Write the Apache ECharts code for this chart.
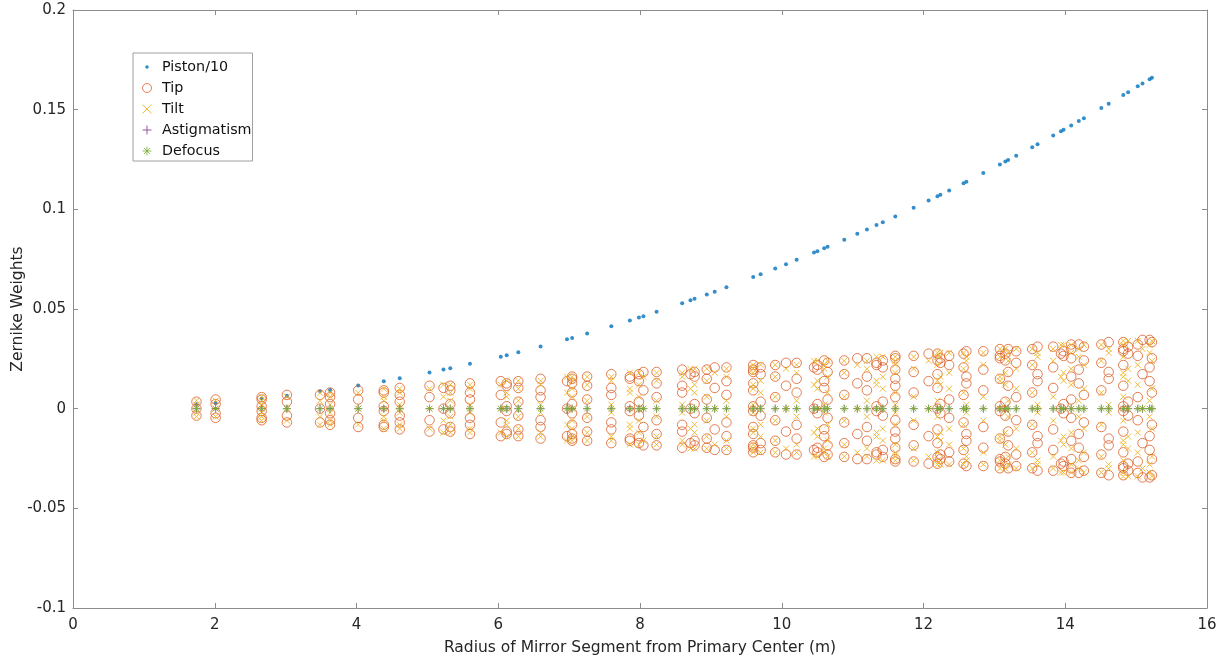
<!DOCTYPE html>
<html>
<head>
<meta charset="utf-8">
<title>Zernike Weights</title>
<script src="https://cdn.jsdelivr.net/npm/echarts@6/dist/echarts.min.js"></script>
<style>
html, body { margin: 0; padding: 0; background: #fff; }
#main { width: 1226px; height: 659px; }
</style>
</head>
<body>
<div id="main"></div>
<script>
// radius of each ring of segments (m)
var radii = [
  1.742, 2.012, 2.662, 3.018, 3.485, 3.627, 4.024, 4.385, 4.610, 5.030,
  5.227, 5.323, 5.601, 6.036, 6.119, 6.283, 6.597, 6.970, 7.042, 7.254,
  7.595, 7.857, 7.985, 8.048, 8.234, 8.595, 8.712, 8.770, 8.942, 9.054,
  9.220, 9.597, 9.702, 9.908, 10.060, 10.210, 10.455, 10.503, 10.599, 10.647,
  10.882, 11.066, 11.202, 11.337, 11.426, 11.602, 11.861, 12.072, 12.197, 12.238,
  12.362, 12.565, 12.605, 12.844, 13.078, 13.155, 13.194, 13.308, 13.534, 13.609,
  13.830, 13.940, 13.976, 14.084, 14.191, 14.263, 14.509, 14.613, 14.819, 14.887,
  15.023, 15.090, 15.190, 15.223
];

// piston / 10, one value per ring
var pistonTenth = [
  0.0022, 0.0029, 0.0051, 0.0065, 0.0087, 0.0094, 0.0116, 0.0138, 0.0152, 0.0181,
  0.0196, 0.0203, 0.0225, 0.0261, 0.0268, 0.0283, 0.0312, 0.0348, 0.0355, 0.0377,
  0.0413, 0.0442, 0.0457, 0.0464, 0.0486, 0.0529, 0.0544, 0.0551, 0.0573, 0.0587,
  0.0609, 0.0660, 0.0674, 0.0703, 0.0725, 0.0747, 0.0783, 0.0790, 0.0805, 0.0812,
  0.0848, 0.0877, 0.0899, 0.0921, 0.0935, 0.0964, 0.1008, 0.1044, 0.1066, 0.1073,
  0.1095, 0.1131, 0.1138, 0.1182, 0.1225, 0.1240, 0.1247, 0.1269, 0.1312, 0.1327,
  0.1370, 0.1392, 0.1399, 0.1421, 0.1443, 0.1457, 0.1508, 0.1530, 0.1573, 0.1588,
  0.1617, 0.1631, 0.1653, 0.1660
];

// tip of the segments in each ring
var tipWeights = [
  [.0035, 0, -.0035],
  [.0046, .0023, -.0023, -.0046],
  [.0058, .0046, .0012, -.0012, -.0046, -.0058],
  [.0069, .0035, -.0035, -.0069],
  [.0069, 0, -.0069],
  [.0081, .0058, .0023, -.0023, -.0058, -.0081],
  [.0092, .0046, -.0046, -.0092],
  [.0092, .0081, .0012, -.0012, -.0081, -.0092],
  [.0104, .0069, .0035, -.0035, -.0069, -.0104],
  [.0115, .0058, -.0058, -.0115],
  [.0104, 0, -.0104],
  [.0115, .0092, .0023, -.0023, -.0092, -.0115],
  [.0127, .0081, .0046, -.0046, -.0081, -.0127],
  [.0138, .0069, -.0069, -.0138],
  [.0127, .0115, .0012, -.0012, -.0115, -.0127],
  [.0138, .0104, .0035, -.0035, -.0104, -.0138],
  [.0150, .0092, .0058, -.0058, -.0092, -.0150],
  [.0138, 0, -.0138],
  [.0161, .0150, .0127, .0081, .0023, -.0023, -.0081, -.0127, -.0150, -.0161],
  [.0161, .0115, .0046, -.0046, -.0115, -.0161],
  [.0173, .0104, .0069, -.0069, -.0104, -.0173],
  [.0161, .0150, .0012, -.0012, -.0150, -.0161],
  [.0173, .0138, .0035, -.0035, -.0138, -.0173],
  [.0184, .0092, -.0092, -.0184],
  [.0184, .0127, .0058, -.0058, -.0127, -.0184],
  [.0196, .0115, .0081, -.0081, -.0115, -.0196],
  [.0173, 0, -.0173],
  [.0184, .0161, .0023, -.0023, -.0161, -.0184],
  [.0196, .0150, .0046, -.0046, -.0150, -.0196],
  [.0207, .0104, -.0104, -.0207],
  [.0207, .0138, .0069, -.0069, -.0138, -.0207],
  [.0219, .0196, .0184, .0127, .0092, .0012, -.0012, -.0092, -.0127, -.0184, -.0196, -.0219],
  [.0207, .0173, .0035, -.0035, -.0173, -.0207],
  [.0219, .0161, .0058, -.0058, -.0161, -.0219],
  [.0230, .0115, -.0115, -.0230],
  [.0230, .0150, .0081, -.0081, -.0150, -.0230],
  [.0207, 0, -.0207],
  [.0219, .0196, .0023, -.0023, -.0196, -.0219],
  [.0242, .0138, .0104, -.0104, -.0138, -.0242],
  [.0230, .0184, .0046, -.0046, -.0184, -.0230],
  [.0242, .0173, .0069, -.0069, -.0173, -.0242],
  [.0253, .0127, -.0127, -.0253],
  [.0253, .0161, .0092, -.0092, -.0161, -.0253],
  [.0230, .0219, .0012, -.0012, -.0219, -.0230],
  [.0242, .0207, .0035, -.0035, -.0207, -.0242],
  [.0265, .0253, .0196, .0150, .0115, .0058, -.0058, -.0115, -.0150, -.0196, -.0253, -.0265],
  [.0265, .0184, .0081, -.0081, -.0184, -.0265],
  [.0276, .0138, -.0138, -.0276],
  [.0276, .0242, .0173, .0104, 0, -.0104, -.0173, -.0242, -.0276],
  [.0253, .0230, .0023, -.0023, -.0230, -.0253],
  [.0265, .0219, .0046, -.0046, -.0219, -.0265],
  [.0276, .0207, .0069, -.0069, -.0207, -.0276],
  [.0288, .0161, .0127, -.0127, -.0161, -.0288],
  [.0288, .0196, .0092, -.0092, -.0196, -.0288],
  [.0299, .0265, .0253, .0150, .0012, -.0012, -.0150, -.0253, -.0265, -.0299],
  [.0276, .0242, .0035, -.0035, -.0242, -.0276],
  [.0299, .0184, .0115, -.0115, -.0184, -.0299],
  [.0288, .0230, .0058, -.0058, -.0230, -.0288],
  [.0299, .0219, .0081, -.0081, -.0219, -.0299],
  [.0311, .0173, .0138, -.0138, -.0173, -.0311],
  [.0311, .0207, .0104, -.0104, -.0207, -.0311],
  [.0276, 0, -.0276],
  [.0288, .0265, .0023, -.0023, -.0265, -.0288],
  [.0322, .0299, .0253, .0161, .0046, -.0046, -.0161, -.0253, -.0299, -.0322],
  [.0322, .0196, .0127, -.0127, -.0196, -.0322],
  [.0311, .0242, .0069, -.0069, -.0242, -.0311],
  [.0322, .0230, .0092, -.0092, -.0230, -.0322],
  [.0334, .0184, .0150, -.0150, -.0184, -.0334],
  [.0334, .0299, .0288, .0219, .0115, .0012, -.0012, -.0115, -.0219, -.0288, -.0299, -.0334],
  [.0311, .0276, .0035, -.0035, -.0276, -.0311],
  [.0322, .0265, .0058, -.0058, -.0265, -.0322],
  [.0345, .0173, -.0173, -.0345],
  [.0345, .0207, .0138, -.0138, -.0207, -.0345],
  [.0334, .0253, .0081, -.0081, -.0253, -.0334]
];

// tilt of the segments in each ring
var tiltWeights = [
  [.004, .002, -.002, -.004],
  [.004, 0, -.004],
  [.006, .004, .002, -.002, -.004, -.006],
  [.006, 0, -.006],
  [.008, .004, -.004, -.008],
  [.008, .006, .002, -.002, -.006, -.008],
  [.008, 0, -.008],
  [.010, .006, .004, -.004, -.006, -.010],
  [.010, .008, .002, -.002, -.008, -.010],
  [.010, 0, -.010],
  [.012, .006, -.006, -.012],
  [.012, .008, .004, -.004, -.008, -.012],
  [.012, .010, .002, -.002, -.010, -.012],
  [.012, 0, -.012],
  [.014, .008, .006, -.006, -.008, -.014],
  [.014, .010, .004, -.004, -.010, -.014],
  [.014, .012, .002, -.002, -.012, -.014],
  [.016, .008, -.008, -.016],
  [.016, .014, .010, .006, 0, -.006, -.010, -.014, -.016],
  [.016, .012, .004, -.004, -.012, -.016],
  [.016, .014, .002, -.002, -.014, -.016],
  [.018, .010, .008, -.008, -.010, -.018],
  [.018, .012, .006, -.006, -.012, -.018],
  [.016, 0, -.016],
  [.018, .014, .004, -.004, -.014, -.018],
  [.018, .016, .002, -.002, -.016, -.018],
  [.020, .010, -.010, -.020],
  [.020, .012, .008, -.008, -.012, -.020],
  [.020, .014, .006, -.006, -.014, -.020],
  [.018, 0, -.018],
  [.020, .016, .004, -.004, -.016, -.020],
  [.022, .020, .018, .012, .010, .002, -.002, -.010, -.012, -.018, -.020, -.022],
  [.022, .014, .008, -.008, -.014, -.022],
  [.022, .016, .006, -.006, -.016, -.022],
  [.020, 0, -.020],
  [.022, .018, .004, -.004, -.018, -.022],
  [.024, .012, -.012, -.024],
  [.024, .014, .010, -.010, -.014, -.024],
  [.022, .020, .002, -.002, -.020, -.022],
  [.024, .016, .008, -.008, -.016, -.024],
  [.024, .018, .006, -.006, -.018, -.024],
  [.022, 0, -.022],
  [.024, .020, .004, -.004, -.020, -.024],
  [.026, .014, .012, -.012, -.014, -.026],
  [.026, .016, .010, -.010, -.016, -.026],
  [.026, .024, .022, .018, .008, .002, -.002, -.008, -.018, -.022, -.024, -.026],
  [.026, .020, .006, -.006, -.020, -.026],
  [.024, 0, -.024],
  [.028, .026, .022, .014, .004, -.004, -.014, -.022, -.026, -.028],
  [.028, .016, .012, -.012, -.016, -.028],
  [.028, .018, .010, -.010, -.018, -.028],
  [.028, .020, .008, -.008, -.020, -.028],
  [.026, .024, .002, -.002, -.024, -.026],
  [.028, .022, .006, -.006, -.022, -.028],
  [.030, .026, .016, .014, 0, -.014, -.016, -.026, -.030],
  [.030, .018, .012, -.012, -.018, -.030],
  [.028, .024, .004, -.004, -.024, -.028],
  [.030, .020, .010, -.010, -.020, -.030],
  [.030, .022, .008, -.008, -.022, -.030],
  [.028, .026, .002, -.002, -.026, -.028],
  [.030, .024, .006, -.006, -.024, -.030],
  [.032, .016, -.016, -.032],
  [.032, .018, .014, -.014, -.018, -.032],
  [.032, .028, .020, .012, 0, -.012, -.020, -.028, -.032],
  [.030, .026, .004, -.004, -.026, -.030],
  [.032, .022, .010, -.010, -.022, -.032],
  [.032, .024, .008, -.008, -.024, -.032],
  [.030, .028, .002, -.002, -.028, -.030],
  [.034, .032, .026, .018, .016, .006, -.006, -.016, -.018, -.026, -.032, -.034],
  [.034, .020, .014, -.014, -.020, -.034],
  [.034, .022, .012, -.012, -.022, -.034],
  [.030, 0, -.030],
  [.032, .028, .004, -.004, -.028, -.032],
  [.034, .024, .010, -.010, -.024, -.034]
];

var astigWeights = [
  0, 0, 0, 0, 0, 0, 0, 0, 0, 0,
  0, 0, 0, 0, 0, 0, 0, 0, 0, 0,
  0, 0, 0, 0, 0, 0, 0, 0, 0, 0,
  0, 0, 0, 0, 0, 0, 0, 0, 0, 0,
  0, 0, 0, 0, 0, 0, 0, 0, 0, 0,
  0, 0, 0, 0, 0, 0, 0, 0, 0, 0,
  0, 0, 0, 0, 0, 0, 0, 0, 0, 0,
  0, 0, 0, 0
];

var defocusWeights = [
  0, 0, 0, 0, 0, 0, 0, 0, 0, 0,
  0, 0, 0, 0, 0, 0, 0, 0, 0, 0,
  0, 0, 0, 0, 0, 0, 0, 0, 0, 0,
  0, 0, 0, 0, 0, 0, 0, 0, 0, 0,
  0, 0, 0, 0, 0, 0, 0, 0, 0, 0,
  0, 0, 0, 0, 0, 0, 0, 0, 0, 0,
  0, 0, 0, 0, 0, 0, 0, 0, 0, 0,
  0, 0, 0, 0
];

var xTicks = { min: 0, max: 16, step: 2 };
var yTicks = { min: -0.1, max: 0.2, step: 0.05 };

var FONT = 'DejaVu Sans';
var TEXT_COLOR = '#262626';
var AXIS_COLOR = '#8c8c8c';
var CROSS = 'path://M0,0L10,10M0,10L10,0';
var PLUS = 'path://M5,0L5,10M0,5L10,5';
var STAR = 'path://M5,0L5,10M0,5L10,5M1.6,1.6L8.4,8.4M1.6,8.4L8.4,1.6';
// small dot inside a 10x10 box, for the legend
var DOT = 'path://M0,0M10,10M3,5A2,2,0,1,1,7,5A2,2,0,1,1,3,5Z';

function pairUp(xs, ys) {
  return xs.map(function (x, i) { return [x, ys[i]]; });
}
function spreadRows(xs, rows) {
  var out = [];
  for (var i = 0; i < xs.length; i++) {
    for (var j = 0; j < rows[i].length; j++) {
      out.push([xs[i], rows[i][j]]);
    }
  }
  return out;
}

function boxAxis(kind, pos, t, showLabel) {
  return {
    type: 'value',
    position: pos,
    min: t.min,
    max: t.max,
    interval: t.step,
    axisLine: { show: true, onZero: false, lineStyle: { color: AXIS_COLOR, width: 1 } },
    axisTick: { show: true, inside: true, length: 5, lineStyle: { color: AXIS_COLOR, width: 1 } },
    splitLine: { show: false },
    axisLabel: {
      show: showLabel,
      color: TEXT_COLOR,
      fontFamily: FONT,
      fontSize: 15,
      margin: kind === 'x' ? 10 : 7,
      formatter: function (v) { return String(+v.toFixed(2)); }
    }
  };
}

var xBottom = boxAxis('x', 'bottom', xTicks, true);
xBottom.name = 'Radius of Mirror Segment from Primary Center (m)';
xBottom.nameLocation = 'middle';
xBottom.nameGap = 32;
xBottom.nameMoveOverlap = false;
xBottom.nameTextStyle = { fontFamily: FONT, fontSize: 15.5, color: TEXT_COLOR };

var yLeft = boxAxis('y', 'left', yTicks, true);
yLeft.name = 'Zernike Weights';
yLeft.nameLocation = 'middle';
yLeft.nameGap = 47;
yLeft.nameMoveOverlap = false;
yLeft.nameTextStyle = { fontFamily: FONT, fontSize: 15.5, color: TEXT_COLOR };

var chart = echarts.init(document.getElementById('main'));
chart.setOption({
  animation: false,
  backgroundColor: '#fff',
  grid: { left: 73, right: 19, top: 10, bottom: 51, containLabel: false, outerBoundsMode: 'none' },
  xAxis: [xBottom, boxAxis('x', 'top', xTicks, false)],
  yAxis: [yLeft, boxAxis('y', 'right', yTicks, false)],
  legend: {
    orient: 'vertical',
    left: 133,
    top: 53,
    padding: [6, 1, 2, 9],
    itemGap: 5,
    itemWidth: 20,
    itemHeight: 9,
    selectedMode: false,
    backgroundColor: '#fff',
    borderColor: '#a0a0a0',
    borderWidth: 1,
    borderRadius: 0,
    textStyle: { fontFamily: FONT, fontSize: 14.3, color: '#111', lineHeight: 16 },
    data: [
      { name: 'Piston/10', icon: DOT, itemStyle: { color: '#0072BD', borderWidth: 0 } },
      { name: 'Tip', icon: 'circle', itemStyle: { color: 'rgba(0,0,0,0)', borderColor: '#D95319', borderWidth: 1, opacity: 0.75 } },
      { name: 'Tilt', icon: CROSS, itemStyle: { color: '#EDB120', borderColor: '#EDB120', borderWidth: 1, opacity: 0.85 } },
      { name: 'Astigmatism', icon: PLUS, itemStyle: { color: '#7E2F8E', borderColor: '#7E2F8E', borderWidth: 1 } },
      { name: 'Defocus', icon: STAR, itemStyle: { color: '#77AC30', borderColor: '#77AC30', borderWidth: 1 } }
    ]
  },
  series: [
    {
      name: 'Piston/10', type: 'scatter', symbol: 'circle', symbolSize: 4,
      data: pairUp(radii, pistonTenth),
      itemStyle: { color: '#0072BD' }
    },
    {
      name: 'Tip', type: 'scatter', symbol: 'circle', symbolSize: 9.5,
      data: spreadRows(radii, tipWeights),
      itemStyle: { color: 'rgba(0,0,0,0)', borderColor: '#D95319', borderWidth: 1, opacity: 0.75 }
    },
    {
      name: 'Tilt', type: 'scatter', symbol: CROSS, symbolSize: 6,
      data: spreadRows(radii, tiltWeights),
      itemStyle: { color: '#EDB120', borderColor: '#EDB120', borderWidth: 1, opacity: 0.85 }
    },
    {
      name: 'Astigmatism', type: 'scatter', symbol: PLUS, symbolSize: 8,
      data: pairUp(radii, astigWeights),
      itemStyle: { color: '#7E2F8E', borderColor: '#7E2F8E', borderWidth: 0.8 }
    },
    {
      name: 'Defocus', type: 'scatter', symbol: STAR, symbolSize: 8,
      data: pairUp(radii, defocusWeights),
      itemStyle: { color: '#77AC30', borderColor: '#77AC30', borderWidth: 1 }
    }
  ]
});
</script>
</body>
</html>
